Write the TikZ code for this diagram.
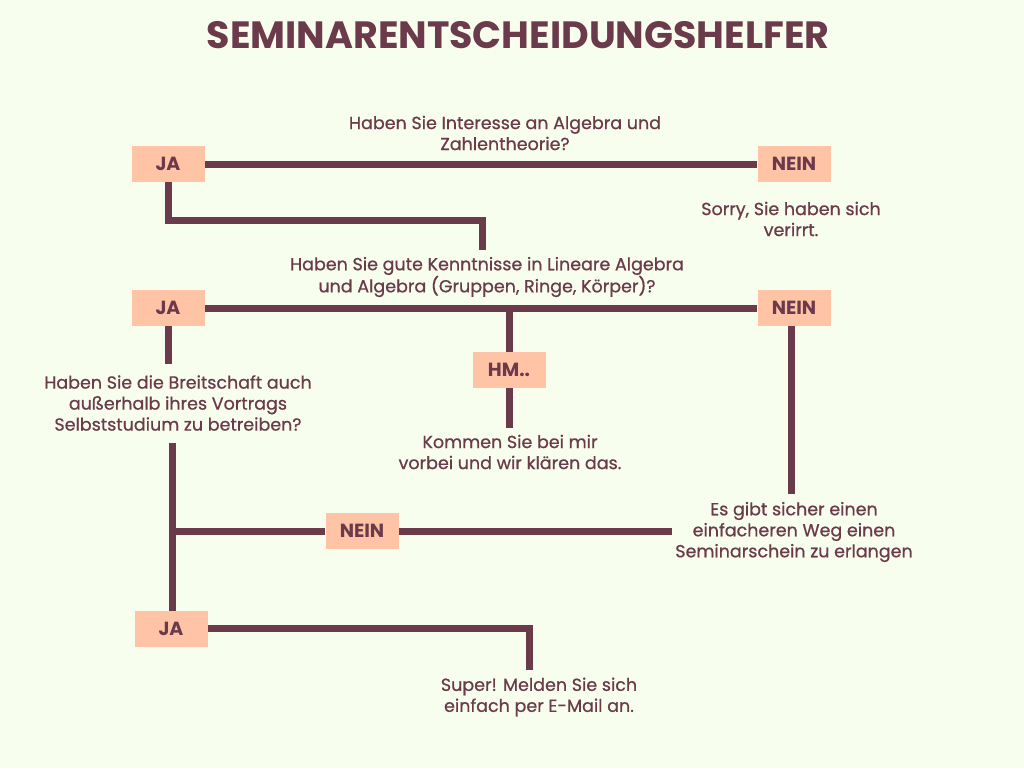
\documentclass[tikz,border=0pt]{standalone}
\usepackage{fontspec}
\setmainfont{Poppins}
\newfontfamily\qfont[FakeBold=0.7]{Poppins}
\definecolor{bgcol}{HTML}{F7FEEE}
\definecolor{wine}{HTML}{6B3A4B}
\definecolor{peach}{HTML}{FFC3A6}
\tikzset{
  answer/.style={fill=peach, text=wine, minimum width=73pt, minimum height=36pt, inner sep=0pt, font=\fontsize{19}{22}\selectfont\bfseries},
  question/.style={text=wine, align=center, inner sep=0pt, font=\fontsize{17.5}{21}\qfont},
  path/.style={wine, line width=7pt}
}
\begin{document}
\begin{tikzpicture}[x=1pt,y=-1pt]
        \fill[bgcol] (0,0) rectangle (1024,768);
        \useasboundingbox (0,0) rectangle (1024,768);
        \node[text=wine, font=\fontsize{38}{42}\selectfont\bfseries] (title) at (518,35) {SEMINARENTSCHEIDUNGSHELFER};
        % first question
        \node[question] (q1) at (505,133) {Haben Sie Interesse an Algebra und\\Zahlentheorie?};
        \node[answer] (ja1) at (168,164) {JA};
        \node[answer] (nein1) at (794,164) {NEIN};
        \node[question] (sorry) at (791,219) {Sorry, Sie haben sich\\verirrt.};
        % second question
        \node[question] (q2) at (487,277) {Haben Sie gute Kenntnisse in Lineare Algebra\\und Algebra (Gruppen, Ringe, Körper)?};
        \node[answer] (ja2) at (168,308) {JA};
        \node[answer] (nein2) at (794,308) {NEIN};
        \node[answer] (hm) at (509,370) {HM..};
        \node[question] (kommen) at (510,452) {Kommen Sie bei mir\\vorbei und wir klären das.};
        % third question
        \node[question] (q3) at (178,403) {Haben Sie die Breitschaft auch\\außerhalb ihres Vortrags\\Selbststudium zu betreiben?};
        \node[question] (weg) at (794,532) {Es gibt sicher einen\\einfacheren Weg einen\\Seminarschein zu erlangen};
        \node[answer] (nein3) at (362,531) {NEIN};
        \node[answer] (ja3) at (171,629) {JA};
        \node[question] (super) at (539,697) {Super! Melden Sie sich\\einfach per E-Mail an.};
        \coordinate (c1) at (168,220);
        \coordinate (c2) at (482,220);
        \coordinate (c3) at (482,250);
        \coordinate (c4) at (509,308);
        \coordinate (c5) at (172,443);
        \coordinate (c6) at (172,531);
        \coordinate (c7) at (672,531);
        \coordinate (c8) at (529,628);
        \coordinate (c9) at (529,670);
        \draw[path] (ja1.east) -- (nein1.west);
        \draw[path] (ja1.south) -- (c1) -- (c2) -- (c3);
        \draw[path] (ja2.east) -- (nein2.west);
        \draw[path] (c4) -- (hm.north);
        \draw[path] (hm.south) -- ++(0,40);
        \draw[path] (ja2.south) -- ++(0,38);
        \draw[path] (nein2.south) ++(-3,0) -- ++(0,168);
        \draw[path] (c5) -- (c5 |- ja3.north);
        \draw[path] (c6) -- (nein3.west);
        \draw[path] (nein3.east) -- (c7);
        \draw[path] (ja3.east |- c8) -- (c8) -- (c9);
        % boxes again on top
        \node[answer] at (ja1) {JA};
        \node[answer] at (nein1) {NEIN};
        \node[answer] at (ja2) {JA};
        \node[answer] at (nein2) {NEIN};
        \node[answer] at (hm) {HM..};
        \node[answer] at (nein3) {NEIN};
        \node[answer] at (ja3) {JA};
\end{tikzpicture}
\end{document}
